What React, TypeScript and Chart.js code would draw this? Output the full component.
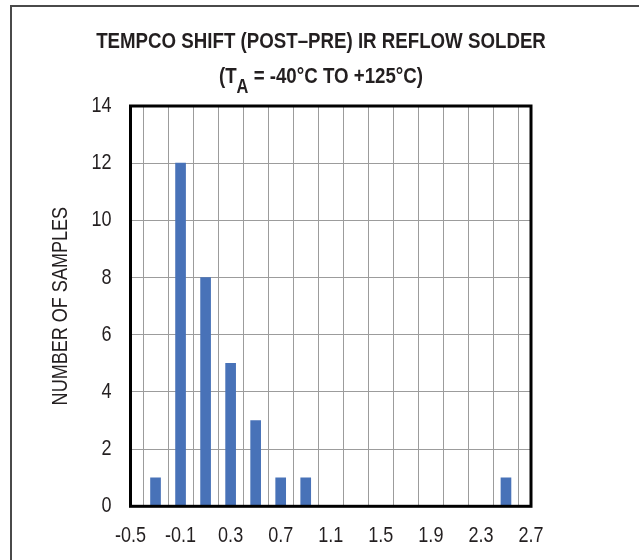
import React, { useEffect, useRef } from "react";
import { Chart, registerables } from "chart.js";

Chart.register(...registerables);

const binCenters = [-0.3, -0.1, 0.1, 0.3, 0.5, 0.7, 0.9, 2.5];
const sampleCounts = [1, 12, 8, 5, 3, 1, 1, 1];
const xTickLabels = ["-0.5", "-0.1", "0.3", "0.7", "1.1", "1.5", "1.9", "2.3", "2.7"];
const xMin = -0.5;
const xMax = 2.7;
const xStep = 0.2;
const yMin = 0;
const yMax = 14;
const yStep = 2;
const titleLine1 = "TEMPCO SHIFT (POST–PRE) IR REFLOW SOLDER";
const yTitle = "NUMBER OF SAMPLES";

const FONT = '"Liberation Sans", Arial, sans-serif';
const TEXT = "#231F20";
const NARROW = 0.82;

// Emulate a narrow face (Arial Narrow) by horizontally condensing canvas text.
const narrowText = {
  id: "narrowText",
  beforeDraw(chart: any) {
    const ctx = chart.ctx;
    if (ctx.__narrowed) return;
    ctx.__narrowed = true;
    const orig = ctx.fillText;
    ctx.fillText = function (text: string, x: number, y: number, maxWidth?: number) {
      this.save();
      this.translate(x, y);
      this.scale(NARROW, 1);
      if (maxWidth === undefined || maxWidth === null) orig.call(this, text, 0, 0);
      else orig.call(this, text, 0, 0, maxWidth / NARROW);
      this.restore();
    };
  },
};

const plotBox = {
  id: "plotBox",
  afterDatasetsDraw(chart: any) {
    const { ctx, chartArea } = chart;
    ctx.save();
    ctx.strokeStyle = "#000000";
    ctx.lineWidth = 3;
    ctx.strokeRect(chartArea.left, chartArea.top, chartArea.right - chartArea.left, chartArea.bottom - chartArea.top);
    ctx.restore();
  },
};

export default function App() {
  const ref = useRef<HTMLCanvasElement | null>(null);

  useEffect(() => {
    if (!ref.current) return;
    const chart = new Chart(ref.current, {
      type: "bar",
      data: {
        datasets: [
          {
            data: binCenters.map((x, i) => ({ x, y: sampleCounts[i] })),
            backgroundColor: "#4872B8",
            borderWidth: 0,
            barThickness: 10,
          },
        ],
      },
      options: {
        responsive: false,
        animation: false,
        events: [],
        layout: { padding: { top: 106, right: 108, bottom: 0, left: 0 } },
        plugins: { legend: { display: false }, title: { display: false }, tooltip: { enabled: false } },
        scales: {
          x: {
            type: "linear",
            min: xMin,
            max: xMax,
            offset: false,
            afterFit(scale: any) {
              scale.height = 53.7;
            },
            grid: { color: "#9C9C9C", lineWidth: 1, drawTicks: false },
            border: { display: false },
            ticks: {
              stepSize: xStep,
              autoSkip: false,
              maxRotation: 0,
              padding: 16,
              color: TEXT,
              font: { family: FONT, size: 22 },
              callback: (v: any) => {
                const s = Number(v).toFixed(1);
                return xTickLabels.includes(s) ? s : "";
              },
            },
          },
          y: {
            min: yMin,
            max: yMax,
            afterFit(scale: any) {
              scale.width = 130.5;
            },
            grid: { color: "#9C9C9C", lineWidth: 1, drawTicks: false },
            border: { display: false },
            ticks: {
              stepSize: yStep,
              padding: 19,
              color: TEXT,
              font: { family: FONT, size: 22 },
            },
            title: {
              display: true,
              text: yTitle,
              color: TEXT,
              font: { family: FONT, size: 22 },
              padding: { top: 48, bottom: 0 },
            },
          },
        },
      },
      plugins: [narrowText, plotBox],
    });
    return () => chart.destroy();
  }, []);

  return (
    <div style={{ position: "fixed", left: 0, top: 0, width: 639, height: 560, overflow: "hidden", background: "#fff" }}>
      <div
        style={{
          position: "absolute",
          left: 10,
          top: 5,
          width: 800,
          height: 800,
          borderLeft: "2px solid #4A4A4A",
          borderTop: "2px solid #4A4A4A",
        }}
      />
      <canvas ref={ref} width={639} height={560} style={{ position: "absolute", left: 0, top: 0, width: 639, height: 560 }} />
      <div
        style={{
          position: "absolute",
          left: 0,
          top: 22.5,
          width: 642,
          textAlign: "center",
          fontFamily: FONT,
          fontWeight: "bold",
          fontSize: 22.8,
          lineHeight: "35px",
          color: TEXT,
          whiteSpace: "nowrap",
          transform: `scaleX(${NARROW})`,
          transformOrigin: "321px 0",
        }}
      >
        <div>{titleLine1}</div>
        <div>
          (T
          <span style={{ fontSize: 20, verticalAlign: -10, lineHeight: 0 }}>A</span>
          {" = -40°C TO +125°C)"}
        </div>
      </div>
    </div>
  );
}
